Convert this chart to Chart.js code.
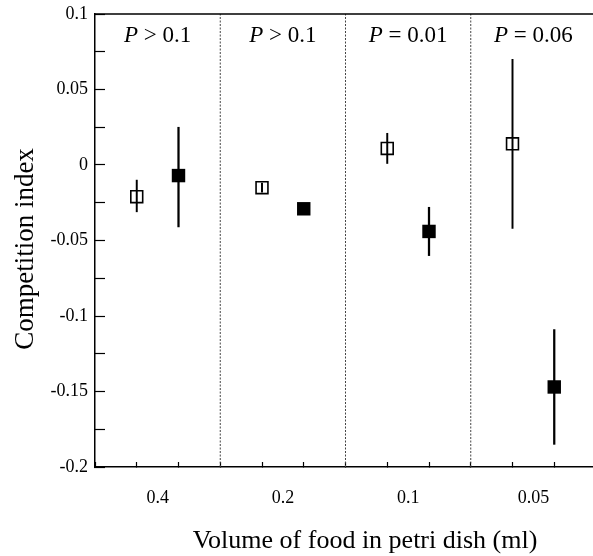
<!DOCTYPE html>
<html>
<head>
<meta charset="utf-8">
<script src="https://cdn.jsdelivr.net/npm/chart.js@4.4.0/dist/chart.umd.min.js"></script>
<style>
  html, body { margin: 0; padding: 0; background: #fff; overflow: hidden; }
  #wrap { width: 600px; height: 556px; }
</style>
</head>
<body>
<div id="wrap"><canvas id="chart" width="600" height="556"></canvas></div>
<script>
// food volume of each panel (ml), left to right
var volumes = ["0.4", "0.2", "0.1", "0.05"];
var pValues = ["> 0.1", "> 0.1", "= 0.01", "= 0.06"];

// slot of each marker on the x axis (3 slots per panel)
var openX = [1, 4, 7, 10];
var filledX = [2, 5, 8, 11];
var panelCenters = [1.5, 4.5, 7.5, 10.5];
var dividers = [3, 6, 9];

// competition index: means and error bar ends
var openMean = [-0.021, -0.015, 0.011, 0.014];
var openLow = [-0.031, -0.018, 0.001, -0.042];
var openHigh = [-0.010, -0.012, 0.021, 0.070];
var filledMean = [-0.007, -0.029, -0.044, -0.147];
var filledLow = [-0.041, -0.031, -0.060, -0.185];
var filledHigh = [0.025, -0.027, -0.028, -0.109];

var yTickLabels = ["-0.2", "-0.15", "-0.1", "-0.05", "0", "0.05", "0.1"];
var yMin = -0.2, yMax = 0.1;

var serif = "'Liberation Serif', 'Times New Roman', serif";

function points(xs, ys) {
  return xs.map(function(x, i) { return { x: x, y: ys[i] }; });
}
function ranges(xs, lo, hi) {
  return xs.map(function(x, i) { return { x: x, y: [lo[i], hi[i]] }; });
}

var dividerSets = dividers.map(function(d) {
  return {
    type: "line",
    data: [{ x: d, y: yMin }, { x: d, y: yMax }],
    borderColor: "#444",
    borderWidth: 1,
    borderDash: [2, 1.5],
    pointRadius: 0,
    fill: false
  };
});

// texts and the closed frame
var annotations = {
  id: "annotations",
  afterDraw: function(chart) {
    var ctx = chart.ctx;
    var area = chart.chartArea;
    var xs = chart.scales.x;
    ctx.save();
    ctx.strokeStyle = "#000";
    ctx.lineWidth = 1.5;
    ctx.beginPath();
    ctx.moveTo(area.left, area.top);
    ctx.lineTo(area.right, area.top);
    ctx.lineTo(area.right, area.bottom);
    ctx.stroke();

    ctx.fillStyle = "#000";
    ctx.textBaseline = "alphabetic";
    ctx.textAlign = "left";
    panelCenters.forEach(function(c, i) {
      var cx = xs.getPixelForValue(c);
      ctx.font = "italic 23px " + serif;
      var wp = ctx.measureText("P").width;
      ctx.font = "23px " + serif;
      var rest = " " + pValues[i];
      var wr = ctx.measureText(rest).width;
      var x0 = cx - (wp + wr) / 2;
      ctx.font = "italic 23px " + serif;
      ctx.fillText("P", x0, 42);
      ctx.font = "23px " + serif;
      ctx.fillText(rest, x0 + wp, 42);
    });

    ctx.textAlign = "center";
    ctx.font = "26px " + serif;
    ctx.fillText("Volume of food in petri dish (ml)", 365, 548);

    ctx.translate(33, 249);
    ctx.rotate(-Math.PI / 2);
    ctx.font = "27px " + serif;
    ctx.fillText("Competition index", 0, 0);
    ctx.restore();
  }
};

new Chart(document.getElementById("chart"), {
  type: "scatter",
  data: {
    datasets: [
      {
        data: points(filledX, filledMean),
        pointStyle: "rect",
        pointRadius: 9.5,
        pointBackgroundColor: "#000",
        pointBorderWidth: 0,
        showLine: false
      },
      {
        data: points(openX, openMean),
        pointStyle: "rect",
        pointRadius: 8.4,
        pointBackgroundColor: "rgba(0,0,0,0)",
        pointBorderColor: "#000",
        pointBorderWidth: 1.6,
        showLine: false
      },
      {
        type: "bar",
        data: ranges(filledX, filledLow, filledHigh),
        backgroundColor: "#000",
        barThickness: 1.6,
        grouped: false,
        borderWidth: 0
      },
      {
        type: "bar",
        data: ranges(openX, openLow, openHigh),
        backgroundColor: "#000",
        barThickness: 1.3,
        grouped: false,
        borderWidth: 0
      }
    ].concat(dividerSets)
  },
  options: {
    responsive: false,
    animation: false,
    events: [],
    layout: { autoPadding: false, padding: { top: 14, right: 4, left: 0, bottom: 0 } },
    plugins: {
      legend: { display: false },
      tooltip: { enabled: false }
    },
    scales: {
      x: {
        type: "linear",
        min: 0,
        max: 12,
        offset: false,
        afterFit: function(scale) {
          scale.height = 89;
          scale.paddingLeft = 0;
          scale.paddingRight = 0;
        },
        afterBuildTicks: function(scale) {
          var t = [];
          for (var i = 0; i <= 12; i++) t.push({ value: i });
          panelCenters.forEach(function(c) { t.push({ value: c }); });
          t.sort(function(a, b) { return a.value - b.value; });
          scale.ticks = t;
        },
        grid: {
          offset: false,
          drawOnChartArea: false,
          tickLength: -5,
          tickWidth: 1.2,
          tickColor: function(c) {
            return Number.isInteger(c.tick.value) ? "#000" : "rgba(0,0,0,0)";
          }
        },
        border: { display: true, color: "#000", width: 1.5 },
        ticks: {
          autoSkip: false,
          maxRotation: 0,
          padding: 25,
          color: "#000",
          font: { family: serif, size: 18 },
          callback: function(value) {
            var k = panelCenters.indexOf(value);
            return k >= 0 ? volumes[k] : "";
          }
        }
      },
      y: {
        type: "linear",
        min: yMin,
        max: yMax,
        beginAtZero: false,
        afterFit: function(scale) {
          scale.width = 95;
          scale.paddingTop = 0;
          scale.paddingBottom = 0;
        },
        grid: {
          drawOnChartArea: false,
          tickLength: -10,
          tickWidth: 1.2,
          tickColor: "#000"
        },
        border: { display: true, color: "#000", width: 1.5 },
        ticks: {
          stepSize: 0.025,
          padding: 17,
          color: "#000",
          font: { family: serif, size: 18 },
          callback: function(value, index) {
            return index % 2 === 0 ? yTickLabels[index / 2] : "";
          }
        }
      }
    }
  },
  plugins: [annotations]
});
</script>
</body>
</html>
